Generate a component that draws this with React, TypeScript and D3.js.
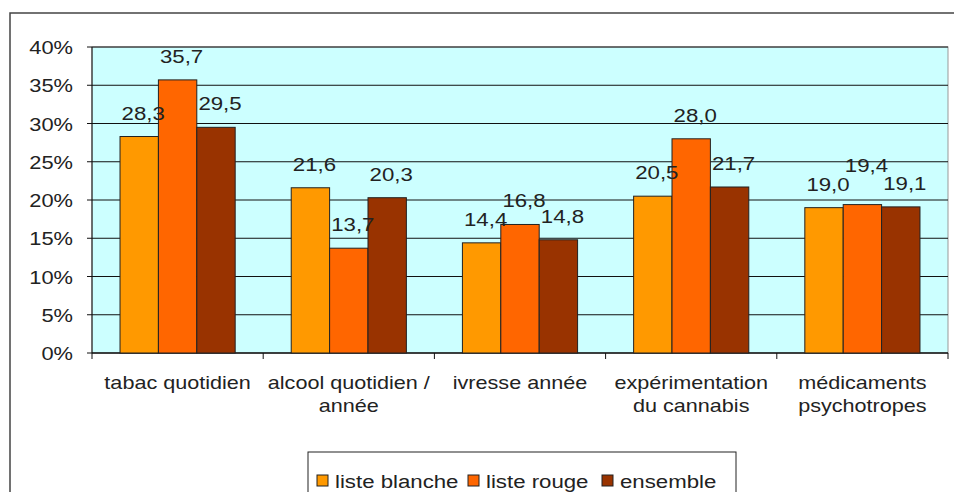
import * as d3 from "d3"

const categories = [
  ["tabac quotidien"],
  ["alcool quotidien /", "année"],
  ["ivresse année"],
  ["expérimentation", "du cannabis"],
  ["médicaments", "psychotropes"],
]
const seriesNames = ["liste blanche", "liste rouge", "ensemble"]
const seriesColors = ["#ff9900", "#ff6600", "#993300"]
const listeBlanche = [28.3, 21.6, 14.4, 20.5, 19.0]
const listeRouge = [35.7, 13.7, 16.8, 28.0, 19.4]
const ensemble = [29.5, 20.3, 14.8, 21.7, 19.1]
const yTicks = [0, 5, 10, 15, 20, 25, 30, 35, 40]

const W = 954
const H = 492
const font = "'Liberation Sans', Arial, sans-serif"

// stretched text, the original picture is wider than it was drawn
function T({ x, y, anchor = "start", size = 19, sx = 1.17, children }: any) {
  return (
    <text
      transform={`translate(${x},${y}) scale(${sx},1)`}
      textAnchor={anchor}
      fontSize={size}
      fill="#222"
    >
      {children}
    </text>
  )
}

export default function App() {
  const series = [listeBlanche, listeRouge, ensemble]
  const plot = { left: 92, right: 948, top: 47, bottom: 353 }

  const x = d3
    .scaleBand<number>()
    .domain(d3.range(categories.length))
    .range([plot.left, plot.right])
  const inner = d3
    .scaleBand<number>()
    .domain(d3.range(series.length))
    .range([0, x.bandwidth()])
    .paddingOuter(0.73)
  const y = d3.scaleLinear().domain([0, 40]).range([plot.bottom, plot.top])
  const fmt = (v: number) => v.toFixed(1).replace(".", ",")

  // Excel pushes the middle label up when it would sit on its neighbours
  const labelLift = (s: number, i: number) => {
    if (s !== 1) return 0
    const m = y(series[1][i])
    const close = Math.abs(m - y(series[0][i])) < 12 || Math.abs(m - y(series[2][i])) < 12
    return close ? 16 : 0
  }

  const legendX = [317, 468, 602]

  return (
    <svg
      width={W}
      height={H}
      style={{ position: "absolute", left: 0, top: 0, background: "#fff" }}
      fontFamily={font}
    >
      {/* chart border */}
      <rect x={10} y={13} width={W} height={H} fill="#fff" stroke="#444" strokeWidth={1.5} />

      {/* plot area */}
      <rect
        x={plot.left}
        y={plot.top}
        width={plot.right - plot.left}
        height={plot.bottom - plot.top}
        fill="#ccffff"
        stroke="#999"
        strokeWidth={1}
      />
      {yTicks.map((t) => (
        <g key={t}>
          <line x1={plot.left - 5} x2={plot.right} y1={y(t)} y2={y(t)} stroke="#111" strokeWidth={1} />
          <T x={73} y={y(t) + 7} anchor="end" sx={1.15}>
            {t}%
          </T>
        </g>
      ))}
      <line x1={plot.left} x2={plot.left} y1={plot.top} y2={plot.bottom} stroke="#111" />
      <line x1={plot.left} x2={plot.right} y1={plot.bottom} y2={plot.bottom} stroke="#111" />
      {d3.range(categories.length + 1).map((i) => {
        const px = i < categories.length ? x(i)! : plot.right
        return <line key={i} x1={px} x2={px} y1={plot.bottom} y2={plot.bottom + 6} stroke="#111" />
      })}

      {/* bars */}
      {series.map((vals, s) =>
        vals.map((v, i) => {
          const bx = x(i)! + inner(s)!
          return (
            <rect
              key={`${s}-${i}`}
              x={bx}
              y={y(v)}
              width={inner.bandwidth()}
              height={plot.bottom - y(v)}
              fill={seriesColors[s]}
              stroke="#222"
              strokeWidth={1}
            />
          )
        })
      )}
      {series.map((vals, s) =>
        vals.map((v, i) => (
          <T
            key={`l${s}-${i}`}
            x={x(i)! + inner(s)! + inner.bandwidth() / 2 + 4}
            y={y(v) - 17 - labelLift(s, i)}
            anchor="middle"
          >
            {fmt(v)}
          </T>
        ))
      )}

      {/* category labels */}
      {categories.map((lines, i) =>
        lines.map((ln, j) => (
          <T
            key={`${i}-${j}`}
            x={x(i)! + x.bandwidth() / 2}
            y={389 + j * 23}
            anchor="middle"
            size={18}
            sx={1.2}
          >
            {ln}
          </T>
        ))
      )}

      {/* legend */}
      <rect x={308} y={452} width={428} height={50} fill="#fff" stroke="#222" strokeWidth={1} />
      {seriesNames.map((n, s) => (
        <g key={n}>
          <rect x={legendX[s]} y={475} width={11} height={11} fill={seriesColors[s]} stroke="#222" />
          <T x={legendX[s] + 18} y={488} size={19} sx={1.17}>
            {n}
          </T>
        </g>
      ))}
    </svg>
  )
}
